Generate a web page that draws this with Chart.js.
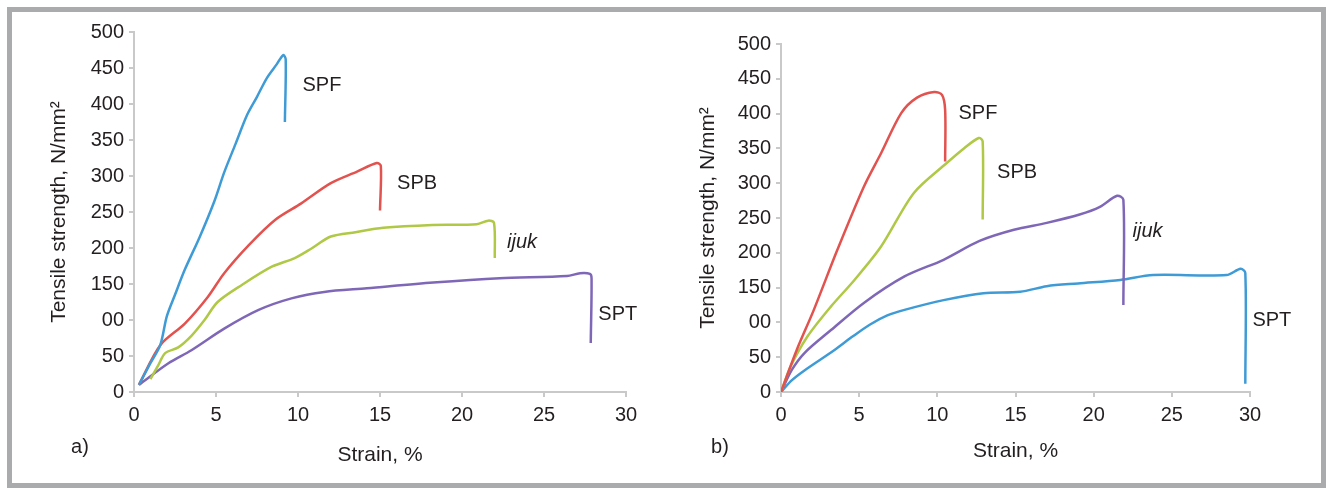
<!DOCTYPE html>
<html>
<head>
<meta charset="utf-8">
<script src="https://cdn.jsdelivr.net/npm/chart.js@4/dist/chart.umd.min.js"></script>
<style>
  html, body { margin: 0; padding: 0; background: #ffffff; }
  #page { position: relative; width: 1327px; height: 488px; overflow: hidden; background: #ffffff; }
  #frame { position: absolute; left: 7px; top: 7px; width: 1309px; height: 471px; border: 5px solid #a9abad; background: #ffffff; }
  canvas { position: absolute; top: 0; }
  #c1 { left: 0; }
  #c2 { left: 660px; }
</style>
</head>
<body>
<div id="page">
  <div id="frame"></div>
  <canvas id="c1" width="660" height="488"></canvas>
  <canvas id="c2" width="667" height="488"></canvas>
</div>
<script>
// ---------- DATA (strain %, tensile strength N/mm²) ----------
const xTicks = [0, 5, 10, 15, 20, 25, 30];
const yTickValues = [0, 50, 100, 150, 200, 250, 300, 350, 400, 450, 500];
const yTickLabels = ['0', '50', '00', '150', '200', '250', '300', '350', '400', '450', '500'];
const xTitle = 'Strain, %';
const yTitle = 'Tensile strength, N/mm²';

// Panel a)
const aSPF = [[0.3,10],[1,40],[1.6,65],[2,105],[2.5,135],[3.1,170],[4,215],[4.9,265],[5.5,305],[6.2,345],[6.9,385],[7.5,410],[8.1,436],[8.7,455],[9.1,468],[9.25,462],[9.2,375]];
const aSPB = [[0.3,10],[1.6,65],[3.1,95],[4.5,132],[5.5,165],[7,204],[8.6,239],[10.2,262],[12,290],[13.6,306],[14.8,318],[15.05,314],[15,252]];
const aIjuk = [[1.0,18],[1.5,38],[1.9,54],[2.7,62],[3.5,78],[4.3,100],[5.1,125],[6.6,149],[8.4,174],[9.8,186],[10.8,199],[12,216],[13.5,222],[15.2,228],[18.2,232],[20.9,233],[21.6,238],[21.95,235],[22,186]];
const aSPT = [[0.3,10],[2.1,40],[3.5,58],[5.5,88],[7.6,114],[9.6,130],[11.6,139],[14.2,144],[18.25,152],[22.3,158],[26.4,161],[27.2,165],[27.8,164],[27.9,158],[27.85,68]];

// Panel b)
const bSPF = [[0,0],[1,60],[2.1,118],[3.6,204],[5.3,295],[6.4,343],[7.7,401],[8.7,423],[9.8,431],[10.3,427],[10.5,405],[10.5,331]];
const bSPB = [[0,0],[0.6,36],[1.7,80],[3.2,123],[4.7,161],[6.4,209],[8.5,286],[10.6,329],[11.7,350],[12.65,365],[12.9,360],[12.9,248]];
const bIjuk = [[0,0],[0.7,32],[1.5,56],[3.2,89],[5.3,128],[7.9,166],[10.4,190],[12.7,217],[14.9,233],[17,243],[19.1,255],[20.4,266],[21.5,282],[21.9,276],[21.9,125]];
const bSPT = [[0,0],[0.7,17],[1.5,31],[3.4,60],[4.6,80],[5.7,97],[6.8,110],[7.9,118],[10.4,132],[12.95,142],[15.3,144],[17,152],[19,156],[21.7,161],[23.8,168],[28.5,168],[29.4,177],[29.7,171],[29.7,12]];

// Curve label anchors (data units)
const aLabels = [['SPF', 11.46, 426, false], ['SPB', 17.26, 289, false], ['ijuk', 23.66, 208, true], ['SPT', 29.5, 107, false]];
const bLabels = [['SPF', 12.6, 400, false], ['SPB', 15.1, 316, false], ['ijuk', 23.45, 231, true], ['SPT', 31.4, 103, false]];

// ---------- STYLE ----------
const COL = { blue: '#3f9bd6', red: '#e2524e', green: '#afc846', purple: '#7f67b8' };
const TXT = '#231f20';
const AXIS = '#c9c9c9';
const FONT = 'Liberation Sans, Arial, sans-serif';

function toPts(arr) { return arr.map(p => ({ x: p[0], y: p[1] })); }
function ds(arr, color) {
  return { data: toPts(arr), borderColor: color, borderWidth: 2.5, showLine: true, pointRadius: 0, fill: false, tension: 0.3 };
}

function textPlugin(labels, panelText, panelPos) {
  return {
    id: 'curveLabels',
    afterDraw(chart) {
      const { ctx, scales } = chart;
      ctx.save();
      ctx.fillStyle = TXT;
      ctx.textBaseline = 'middle';
      ctx.textAlign = 'center';
      labels.forEach(([t, x, y, it]) => {
        ctx.font = (it ? 'italic ' : '') + '20px ' + FONT;
        ctx.fillText(t, scales.x.getPixelForValue(x), scales.y.getPixelForValue(y));
      });
      ctx.font = '20px ' + FONT;
      ctx.fillText(panelText, panelPos[0], panelPos[1]);
      ctx.restore();
    }
  };
}

function makeChart(id, datasets, labels, panelText, panelPos, geo) {
  return new Chart(document.getElementById(id), {
    type: 'scatter',
    data: { datasets },
    options: {
      responsive: false,
      animation: false,
      events: [],
      layout: { padding: geo.padding },
      plugins: { legend: { display: false }, tooltip: { enabled: false } },
      scales: {
        x: {
          type: 'linear', min: 0, max: 30,
          afterBuildTicks: s => { s.ticks = xTicks.map(v => ({ value: v })); },
          afterFit: s => { s.height = geo.xh; },
          ticks: { color: TXT, font: { family: FONT, size: 20 }, padding: 6, maxRotation: 0 },
          grid: { drawOnChartArea: false, drawTicks: true, tickLength: 5, color: AXIS, lineWidth: 2 },
          border: { color: AXIS, width: 2 },
          title: { display: true, text: xTitle, color: TXT, font: { family: FONT, size: 21 }, padding: { top: 0, bottom: 10 } }
        },
        y: {
          type: 'linear', min: 0, max: 500,
          afterBuildTicks: s => { s.ticks = yTickValues.map(v => ({ value: v })); },
          afterFit: s => { s.width = geo.yw; },
          ticks: { color: TXT, font: { family: FONT, size: 20 }, padding: 5,
                   callback: v => { const i = yTickValues.indexOf(v); return i >= 0 ? yTickLabels[i] : ''; } },
          grid: { drawOnChartArea: false, drawTicks: true, tickLength: 5, color: AXIS, lineWidth: 2 },
          border: { color: AXIS, width: 2 },
          title: { display: true, text: yTitle, color: TXT, font: { family: FONT, size: 21 }, padding: { top: 7, bottom: 0 } }
        }
      }
    },
    plugins: [textPlugin(labels, panelText, panelPos)]
  });
}

makeChart('c1',
  [ds(aSPF, COL.blue), ds(aSPB, COL.red), ds(aIjuk, COL.green), ds(aSPT, COL.purple)],
  aLabels, 'a)', [80, 447],
  { padding: { left: 40, right: 34, top: 32, bottom: 10 }, yw: 94, xh: 86 });

makeChart('c2',
  [ds(bSPF, COL.red), ds(bSPB, COL.green), ds(bIjuk, COL.purple), ds(bSPT, COL.blue)],
  bLabels, 'b)', [60, 447],
  { padding: { left: 29, right: 77, top: 44, bottom: 14 }, yw: 92, xh: 82 });
</script>
</body>
</html>
